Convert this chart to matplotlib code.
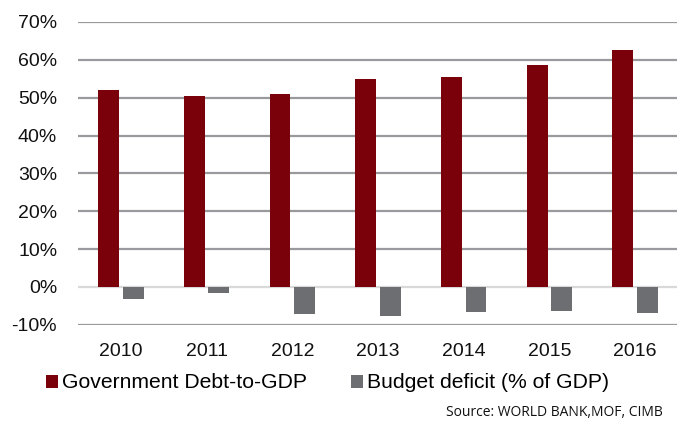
import numpy as np
import matplotlib
matplotlib.use('Agg')
import matplotlib.pyplot as plt
from matplotlib.ticker import FuncFormatter

# Data
years = ['2010', '2011', '2012', '2013', '2014', '2015', '2016']
debt_to_gdp = [52.0, 50.4, 51.1, 54.9, 55.4, 58.6, 62.5]
budget_deficit = [-3.1, -1.5, -7.1, -7.7, -6.6, -6.5, -6.8]
y_ticks = [-10, 0, 10, 20, 30, 40, 50, 60, 70]

red = '#7A0009'
grey = '#6D6E71'

plt.rcParams['font.family'] = ['Liberation Sans', 'DejaVu Sans']

fig = plt.figure(figsize=(6.77, 4.24), dpi=100)
ax = fig.add_axes([78 / 677, 1 - 324.7 / 424, 600 / 677, (324.7 - 22) / 424])

x = np.arange(len(years))
w = 0.244
ax.bar(x - 0.143, debt_to_gdp, width=w, color=red, zorder=3,
       label='Government Debt-to-GDP')
ax.bar(x + 0.143, budget_deficit, width=w, color=grey, zorder=3,
       label='Budget deficit (% of GDP)')

ax.set_ylim(-10, 70)
ax.set_xlim(-0.5, len(years) - 0.5)
ax.set_yticks(y_ticks)
ax.yaxis.set_major_formatter(FuncFormatter(lambda v, p: f'{v:.0f}%'))
ax.set_xticks(x)
ax.set_xticklabels(years)

# gridlines (the zero line is lighter)
for t in y_ticks:
    c = '#D9D9D9' if t == 0 else '#9A9A9E'
    ax.axhline(t, color=c, lw=1.6, zorder=1)

for s in ax.spines.values():
    s.set_visible(False)
ax.tick_params(axis='both', length=0, labelsize=14, colors='#111111')
ax.tick_params(axis='y', pad=15)
ax.tick_params(axis='x', pad=13)

handles, labels = ax.get_legend_handles_labels()
fig.legend(handles, labels, loc='center left',
           bbox_to_anchor=(46 / 677, 1 - 383 / 424), ncol=2, frameon=False,
           fontsize=15.2, handlelength=0.57, handleheight=0.57,
           handletextpad=0.19, columnspacing=2.1, borderpad=0, borderaxespad=0)

fig.text(663 / 677, 1 - 413 / 424, 'Source: WORLD BANK,MOF, CIMB',
         ha='right', va='center', fontsize=10, family=['Open Sans', 'DejaVu Sans'],
         color='#111111')

fig.savefig('out.png', dpi=100)
